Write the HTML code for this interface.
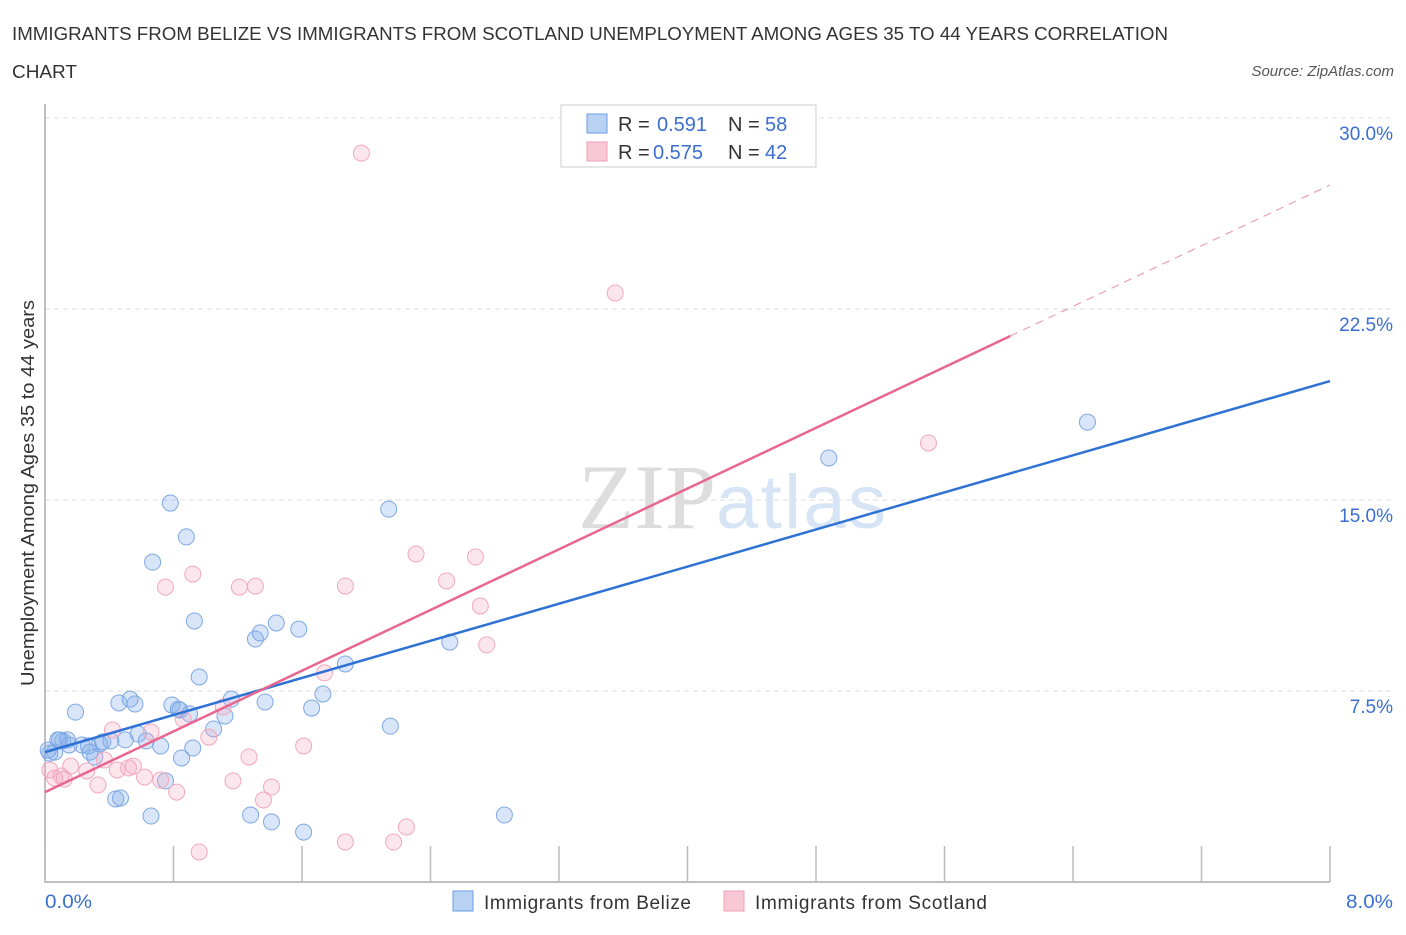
<!DOCTYPE html>
<html><head><meta charset="utf-8"><style>
body{margin:0;background:#fff;font-family:"Liberation Sans",sans-serif;}
</style></head><body>
<svg width="1406" height="930" xmlns="http://www.w3.org/2000/svg" font-family="Liberation Sans, sans-serif">
<text x="12" y="40" font-size="18" fill="#333" textLength="1156" lengthAdjust="spacingAndGlyphs">IMMIGRANTS FROM BELIZE VS IMMIGRANTS FROM SCOTLAND UNEMPLOYMENT AMONG AGES 35 TO 44 YEARS CORRELATION</text>
<text x="12" y="78" font-size="18" fill="#333" textLength="65" lengthAdjust="spacingAndGlyphs">CHART</text>
<text x="1394" y="76" font-size="15" fill="#555" font-style="italic" text-anchor="end">Source: ZipAtlas.com</text>
<g id="grid"></g>
<text x="716" y="528" font-size="92" fill="#ddd" font-family="Liberation Serif, serif" text-anchor="end">ZIP</text>
<text x="716" y="528" font-size="76" fill="#d6e4f5" text-anchor="start" textLength="170">atlas</text>
<g id="pts"></g>
<g id="lines"></g>
<text transform="translate(34,493) rotate(-90)" font-size="18" fill="#333" text-anchor="middle" textLength="386" lengthAdjust="spacingAndGlyphs">Unemployment Among Ages 35 to 44 years</text>
<text x="45" y="908" font-size="19" fill="#3a6fd0" textLength="47" lengthAdjust="spacingAndGlyphs">0.0%</text>
<text x="1393" y="908" font-size="19" fill="#3a6fd0" text-anchor="end" textLength="47" lengthAdjust="spacingAndGlyphs">8.0%</text>
<g>
<rect x="561" y="105" width="255" height="62" fill="#fff" stroke="#ccc"/>
<rect x="587" y="114" width="20" height="19" fill="#b9d2f4" stroke="#6b9ce0"/>
<text x="618" y="131" font-size="20" fill="#333">R =</text>
<text x="657" y="131" font-size="20" fill="#3a6fd0">0.591</text>
<text x="728" y="131" font-size="20" fill="#333">N =</text>
<text x="765" y="131" font-size="20" fill="#3a6fd0">58</text>
<rect x="587" y="142" width="20" height="19" fill="#f8c8d6" stroke="#f0a0b8"/>
<text x="618" y="159" font-size="20" fill="#333">R =</text>
<text x="653" y="159" font-size="20" fill="#3a6fd0">0.575</text>
<text x="728" y="159" font-size="20" fill="#333">N =</text>
<text x="765" y="159" font-size="20" fill="#3a6fd0">42</text>
</g>
<g>
<rect x="453" y="891" width="20" height="20" fill="#b9d2f4" stroke="#6b9ce0"/>
<text x="484" y="909" font-size="19" fill="#333" textLength="207">Immigrants from Belize</text>
<rect x="724" y="891" width="20" height="20" fill="#f8c8d6" stroke="#f0a0b8"/>
<text x="755" y="909" font-size="19" fill="#333" textLength="232">Immigrants from Scotland</text>
</g>
</svg>
<script>
const yTicks=[7.5,15.0,22.5,30.0];
const xTicks=[0,0.8,1.6,2.4,3.2,4.0,4.8,5.6,6.4,7.2,8.0];
const belizeX=[0.06,0.03,0.08,0.11,0.14,0.19,0.23,0.27,0.31,0.34,0.36,0.41,0.44,0.47,0.46,0.50,0.53,0.56,0.58,0.63,0.66,0.67,0.72,0.75,0.78,0.79,0.83,0.85,0.88,0.90,0.92,0.93,0.96,1.05,1.12,1.16,1.28,1.31,1.34,1.37,1.41,1.44,1.58,1.61,1.66,1.73,1.87,2.14,2.15,2.52,2.86,4.88,6.49,0.09,0.02,0.28,0.15,0.84];
const belizeY=[5.10,5.06,5.58,5.54,5.58,6.67,5.38,5.34,4.91,5.42,5.50,5.54,3.26,3.30,7.03,5.58,7.18,6.99,5.81,5.54,2.59,12.56,5.34,3.97,14.88,6.95,6.79,4.87,13.55,6.60,5.26,10.25,8.05,6.01,6.52,7.18,2.63,9.54,9.78,7.07,2.36,10.17,9.93,1.96,6.83,7.38,8.56,14.64,6.12,9.42,2.63,16.65,18.06,5.58,5.18,5.10,5.38,6.75];
const scotX=[1.97,3.55,5.50,2.31,2.68,2.50,2.71,2.75,1.87,1.21,1.31,0.75,0.92,1.74,1.61,1.27,1.11,1.02,0.86,0.66,0.42,0.45,0.52,0.55,0.62,0.72,0.82,0.33,0.12,0.06,0.16,0.26,0.37,1.17,1.41,1.36,2.25,2.17,1.87,0.96,0.03,0.10];
const scotY=[28.62,23.13,17.24,12.88,12.76,11.82,10.84,9.31,11.62,11.58,11.62,11.58,12.09,8.21,5.34,4.91,6.87,5.69,6.40,5.89,5.97,4.40,4.48,4.55,4.12,4.00,3.53,3.81,4.04,4.08,4.55,4.36,4.79,3.97,3.73,3.22,2.16,1.57,1.57,1.18,4.40,4.16];
const belizeTrend=[5.10,19.67];
const scotTrend=[3.53,27.37];
const scotSolidEnd=6.01;
const NS="http://www.w3.org/2000/svg";
const sx=v=>45+v*(1285/8);
const sy=v=>882-v*(764/30);
function mk(t,a,p){const e=document.createElementNS(NS,t);for(const k in a)e.setAttribute(k,a[k]);p.appendChild(e);return e;}
const grid=document.getElementById('grid');
yTicks.forEach(t=>{
 const l=mk('line',{x1:45,x2:1392,y1:sy(t),y2:sy(t),stroke:'#ddd','stroke-dasharray':'5,4'},grid);
 
 
 const tx=mk('text',{x:1393,y:sy(t)+22,'font-size':19,fill:'#3a6fd0','text-anchor':'end'},grid);
 tx.textContent=t.toFixed(1)+'%';
 
 
});
const ax=mk('path',{d:'M45 104 V882 H1330',fill:'none',stroke:'#aaa','stroke-width':1.5},grid);


xTicks.forEach(t=>{
 const l=mk('line',{x1:sx(t),x2:sx(t),y1:846,y2:882,stroke:'#bbb','stroke-width':1.5},grid);
 
 
});
const pts=document.getElementById('pts');
belizeX.forEach((x,i)=>{
 const c=mk('circle',{cx:sx(x),cy:sy(belizeY[i]),r:8,fill:'rgba(130,172,235,0.3)',stroke:'#7ea8e4','stroke-width':1},pts);
 
 
});
scotX.forEach((x,i)=>{
 const c=mk('circle',{cx:sx(x),cy:sy(scotY[i]),r:8,fill:'rgba(245,165,190,0.28)',stroke:'#f2a8bd','stroke-width':1},pts);
 
 
});
const lines=document.getElementById('lines');
const bl=mk('line',{x1:sx(0),y1:sy(belizeTrend[0]),x2:sx(8),y2:sy(belizeTrend[1]),stroke:'#2f72d6','stroke-width':2.5},lines);


const sAt=x=>scotTrend[0]+(scotTrend[1]-scotTrend[0])*x/8;
const sl=mk('line',{x1:sx(0),y1:sy(sAt(0)),x2:sx(scotSolidEnd),y2:sy(sAt(scotSolidEnd)),stroke:'#e8668f','stroke-width':2.5},lines);


const sd=mk('line',{x1:sx(scotSolidEnd),y1:sy(sAt(scotSolidEnd)),x2:sx(8),y2:sy(sAt(8)),stroke:'#eaa0b5','stroke-width':1.2,'stroke-dasharray':'8,6'},lines);


</script>
</body></html>
